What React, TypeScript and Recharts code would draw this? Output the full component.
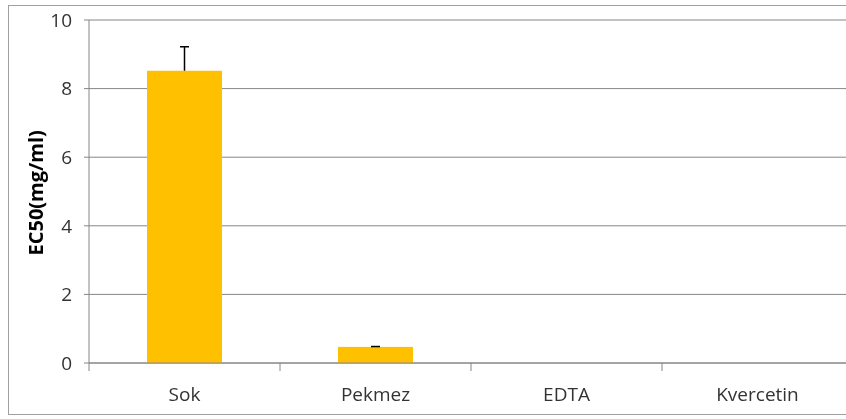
import React from "react";
import { BarChart, Bar, XAxis, YAxis, CartesianGrid } from "recharts";

const categories = ["Sok", "Pekmez", "EDTA", "Kvercetin"];
const ec50 = [8.52, 0.47, 0, 0];
const ec50Plus = [0.7, 0.01, 0, 0];
const yTicks = [0, 2, 4, 6, 8, 10];

const data = categories.map((name, i) => ({
    name,
    value: ec50[i],
    plus: ec50Plus[i],
}));

const FONT = "'Open Sans', 'DejaVu Sans', sans-serif";

const CategoryTick = (props: any) => {
    const { x, y, payload } = props;
    const half = payload && payload.offset ? payload.offset : 95.5;
    return (
        <g>
            <line x1={x - half} y1={y - 8} x2={x - half} y2={y} stroke="#868686" />
            <text
                x={x}
                y={y + 30}
                textAnchor="middle"
                fill="#333"
                fontSize={19}
                fontFamily={FONT}
            >
                {payload.value}
            </text>
        </g>
    );
};

// bar with a plus-only error bar, scaled from the bar's own height/value
const BarWithError = (props: any) => {
    const { x, y, width, height, payload, fill } = props;
    if (!height || !payload || !payload.value) return null;
    const perUnit = height / payload.value;
    const top = y - payload.plus * perUnit;
    const cx = x + width / 2;
    return (
        <g>
            <rect x={x} y={y} width={width} height={height} fill={fill} />
            {payload.plus > 0 && (
                <g stroke="#000" strokeWidth={1.5}>
                    <line x1={cx} y1={y} x2={cx} y2={top} />
                    <line x1={cx - 4.5} y1={top} x2={cx + 4.5} y2={top} />
                </g>
            )}
        </g>
    );
};

const App: React.FC = () => {
    return (
        <div
            style={{
                position: "fixed",
                left: 8,
                top: 5,
                width: 838,
                height: 408,
                overflow: "hidden",
                borderLeft: "1px solid #a0a0a0",
                borderTop: "1px solid #a0a0a0",
                borderBottom: "1px solid #a0a0a0",
            }}
        >
            <BarChart
                width={845}
                height={408}
                data={data}
                margin={{ top: 14, right: 1, bottom: 21, left: 0 }}
                barCategoryGap="20%"
            >
                <CartesianGrid vertical={false} stroke="#868686" />
                <XAxis
                    dataKey="name"
                    height={30}
                    stroke="#868686"
                    tickLine={false}
                    tick={<CategoryTick />}
                    interval={0}
                />
                <YAxis
                    width={80}
                    domain={[0, 10]}
                    ticks={yTicks}
                    stroke="#868686"
                    tickSize={5}
                    tickMargin={12}
                    tick={{ fill: "#333", fontSize: 19, fontFamily: FONT }}
                    label={{
                        value: "EC50(mg/ml)",
                        angle: -90,
                        position: "insideLeft",
                        dx: 22,
                        dy: 64,
                        style: {
                            fontWeight: "bold",
                            fontSize: 20,
                            fontFamily: FONT,
                            fill: "#000",
                        },
                    }}
                />
                <Bar
                    dataKey="value"
                    fill="#FFC000"
                    barSize={75}
                    shape={<BarWithError />}
                    isAnimationActive={false}
                />
            </BarChart>
        </div>
    );
};

export default App;
